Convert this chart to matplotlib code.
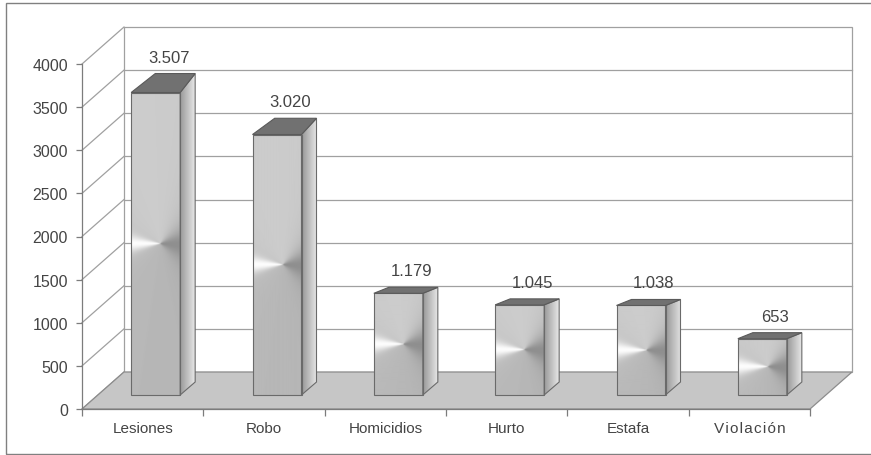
import numpy as np
import matplotlib
matplotlib.use("Agg")
import matplotlib.pyplot as plt
from matplotlib.patches import Polygon, Rectangle

plt.rcParams["font.family"] = ["Liberation Sans", "DejaVu Sans"]

categories = ["Lesiones", "Robo", "Homicidios", "Hurto", "Estafa",
              "V\u200ai\u200ao\u200al\u200aa\u200ac\u200ai\u200aó\u200an"]
counts = [3507, 3020, 1179, 1045, 1038, 653]
yticks = [0, 500, 1000, 1500, 2000, 2500, 3000, 3500, 4000]

W, H = 871, 456
fig = plt.figure(figsize=(W / 100, H / 100), dpi=100)

# front plane of the 3d box, in pixels
left, right, bottom, top = 82, 810, 410, 65
ax = fig.add_axes([left / W, 1 - bottom / H, (right - left) / W, (bottom - top) / H])
ymax = yticks[-1]
n = len(categories)
sx = (right - left) / n      # px per category
sy = (bottom - top) / ymax   # px per unit


def dx(p):
    return p / sx


def dy(p):
    return p / sy


grid_c = "#a0a0a0"
edge_c = "#7c7c7c"
text_c = "#444444"

# box depth
DX, DY = dx(42), dy(37)

# back wall + gridlines
ax.add_patch(Rectangle((DX, DY), n, ymax, fc="white", ec=grid_c, lw=0.9,
                       clip_on=False, zorder=0))
for v in yticks[1:-1]:
    ax.plot([DX, n + DX], [v + DY] * 2, color=grid_c, lw=0.9, clip_on=False, zorder=1)
# side wall diagonals
for v in yticks:
    ax.plot([0, DX], [v, v + DY], color=grid_c, lw=0.9, clip_on=False, zorder=1)

# floor
ax.add_patch(Polygon([(0, 0), (n, 0), (n + DX, DY), (DX, DY)], closed=True,
                     fc="#c6c6c6", ec="#8c8c8c", lw=0.9, clip_on=False, zorder=2))

# bars
bw = dx(49)
off = dx(13)
base = dy(14)
sdx = dx(15)
bot_dy = dy(13)
vmax = max(counts)

for i, v in enumerate(counts):
    x0 = i + 0.5 - bw / 2 + off
    x1 = x0 + bw
    y0, y1 = base, base + v
    t_px = 6 + 13 * np.clip((v - 1200) / (vmax - 1200), 0, 1)
    tdy = dy(t_px)
    ldx = dx(15 + 0.7 * (t_px - 6))

    # front face: conical shading around the middle
    wpx, hpx = 49, v * sy
    nx, ny = 98, int(2 * hpx) + 2
    X, Y = np.meshgrid(np.linspace(0, wpx, nx) - 0.6 * wpx,
                       np.linspace(0, hpx, ny) - 0.5 * hpx)
    phi = np.degrees(np.arctan2(Y, X))
    d180 = 180 - np.abs(phi)
    shade = (0.76 + 0.23 * np.exp(-(d180 / 16) ** 2)
             + 0.04 * np.sin(np.radians(phi))
             - 0.2 * np.exp(-(phi / 45) ** 2))
    ax.imshow(np.clip(shade, 0, 1), cmap="gray", vmin=0, vmax=1, origin="lower",
              extent=[x0, x1, y0, y1], aspect="auto", interpolation="bilinear", zorder=3)
    ax.add_patch(Rectangle((x0, y0), bw, v, fill=False, ec="#6a6a6a", lw=0.8, zorder=4))

    # side face
    side = Polygon([(x1, y0), (x1 + sdx, y0 + bot_dy), (x1 + sdx, y1 + tdy), (x1, y1)],
                   closed=True, fc="none", ec="#6a6a6a", lw=0.8, zorder=4)
    ax.add_patch(side)
    grad = np.tile(np.linspace(0.6, 0.9, 30), (2, 1))
    im = ax.imshow(grad, cmap="gray", vmin=0, vmax=1, origin="lower",
                   extent=[x1, x1 + sdx, y0, y1 + tdy], aspect="auto",
                   interpolation="bilinear", zorder=3)
    im.set_clip_path(side)

    # top face
    ax.add_patch(Polygon([(x0, y1), (x1, y1), (x1 + sdx, y1 + tdy), (x0 + ldx, y1 + tdy)],
                         closed=True, fc="#717171", ec="#5a5a5a", lw=0.8, zorder=4))

    label = f"{v:,}".replace(",", ".")
    ax.text((x0 + x1) / 2 + dx(13), y1 + tdy + dy(9), label, ha="center", va="bottom",
            fontsize=12, color=text_c, zorder=5)

ax.set_xlim(0, n)
ax.set_ylim(0, ymax)

for s in ["top", "right"]:
    ax.spines[s].set_visible(False)
for s in ["left", "bottom"]:
    ax.spines[s].set_color(edge_c)
    ax.spines[s].set_linewidth(0.9)
ax.spines["bottom"].set_zorder(2.5)

ax.set_yticks(yticks)
ax.set_yticklabels([str(t) for t in yticks])
ax.tick_params(axis="y", length=4, width=0.9, color=edge_c, pad=6,
               labelsize=11.5, labelcolor=text_c)
ax.set_xticks(np.arange(n) + 0.5)
ax.set_xticklabels(categories)
ax.set_xticks(np.arange(n + 1), minor=True)
ax.tick_params(axis="x", which="major", length=0, pad=9, labelsize=11, labelcolor=text_c)
ax.tick_params(axis="x", which="minor", length=5, width=0.9, color=edge_c)
ax.patch.set_visible(False)

# outer frame
fig.add_artist(Rectangle((6 / W, 1 / H), 1.0, 451 / H, transform=fig.transFigure,
                         fill=False, ec="#808080", lw=1))

fig.savefig("out.png", dpi=100)
